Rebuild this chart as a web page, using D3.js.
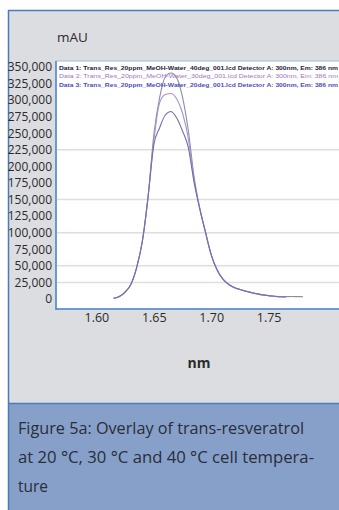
<!DOCTYPE html>
<html>
<head>
<meta charset="utf-8">
<script src="https://cdn.jsdelivr.net/npm/d3@7/dist/d3.min.js"></script>
<style>
  html, body { margin: 0; padding: 0; background: #fff; }
  svg { display: block; }
</style>
</head>
<body>
<script>
// Retention axis samples (shown in "nm" on the axis) and detector response in mAU
const xValues = [1.615, 1.620, 1.625, 1.630, 1.635, 1.640, 1.645, 1.650, 1.655, 1.660,
  1.665, 1.670, 1.675, 1.680, 1.685, 1.690, 1.695, 1.700, 1.705, 1.710,
  1.715, 1.720, 1.725, 1.730, 1.735, 1.740, 1.745, 1.750, 1.755, 1.760,
  1.765, 1.770, 1.775, 1.780];

const data1 = [1200, 3800, 10500, 21900, 46800, 86700, 153900, 247400, 303200, 334900,
  341000, 333400, 304700, 255000, 185600, 137300, 101100, 67000, 44500, 30500,
  22500, 17500, 14300, 11900, 9700, 7800, 6200, 5100, 4200, 3500,
  3600, 3700, 3600, 3500];
const data2 = [1200, 3800, 10500, 21900, 46800, 86700, 153900, 238400, 295700, 308500,
  310000, 301700, 280600, 242900, 179000, 137300, 101100, 67000, 44500, 30500,
  22500, 17500, 14300, 11900, 9700, 7800, 6200, 5100, 4200, 3300,
  3000];
const data3 = [1200, 3800, 10500, 21900, 46800, 86700, 153900, 232300, 258000, 277600,
  282900, 273000, 253400, 229000, 177000, 136000, 100500, 66500, 44200, 30300,
  22300, 17300, 14200, 11800, 9600, 7700, 6100, 5000, 4100, 3300,
  3000];

const seriesNames = [
  "Data 1: Trans_Res_20ppm_MeOH-Water_40deg_001.lcd Detector A: 300nm, Em: 386 nm",
  "Data 2: Trans_Res_20ppm_MeOH-Water_30deg_001.lcd Detector A: 300nm, Em: 386 nm",
  "Data 3: Trans_Res_20ppm_MeOH-Water_20deg_001.lcd Detector A: 300nm, Em: 386 nm"
];
const seriesColors = ["#8f8aa6", "#a993c9", "#6f6fb3"];
const legendColors = ["#22223a", "#a274c6", "#4d4dbb"];

const yTicks = [0, 25000, 50000, 75000, 100000, 125000, 150000, 175000, 200000,
  225000, 250000, 275000, 300000, 325000, 350000];
const xTicks = [1.60, 1.65, 1.70, 1.75];
const gridValues = [25000, 50000, 100000, 150000, 225000];

const captionLines = [
  "Figure 5a: Overlay of trans-resveratrol",
  "at 20 °C, 30 °C and 40 °C cell tempera-",
  "ture"
];

const W = 339, H = 510;
const svg = d3.select("body").append("svg").attr("width", W).attr("height", H);

// Frame panels
svg.append("rect").attr("x", 8).attr("y", 10).attr("width", W - 8).attr("height", 393)
  .attr("fill", "#dcdde0");
svg.append("rect").attr("x", 8).attr("y", 403).attr("width", W - 8).attr("height", H - 403)
  .attr("fill", "#87a0c9");
const frame = svg.append("g").attr("stroke", "#4a7bbb").attr("stroke-width", 1.5);
frame.append("line").attr("x1", 8).attr("x2", W).attr("y1", 10.5).attr("y2", 10.5);
frame.append("line").attr("x1", 8.5).attr("x2", 8.5).attr("y1", 10).attr("y2", H);
frame.append("line").attr("x1", 8).attr("x2", W).attr("y1", 403.5).attr("y2", 403.5);

// Plot area
const plot = { left: 56, top: 61, right: W + 2, bottom: 309 };
svg.append("rect").attr("x", plot.left).attr("y", plot.top)
  .attr("width", plot.right - plot.left).attr("height", plot.bottom - plot.top)
  .attr("fill", "#ffffff").attr("stroke", "#9dbde3").attr("stroke-width", 1);
svg.append("line").attr("x1", plot.left).attr("x2", plot.left)
  .attr("y1", plot.top).attr("y2", plot.bottom + 1)
  .attr("stroke", "#4f86c6").attr("stroke-width", 1.5);
svg.append("line").attr("x1", plot.left).attr("x2", W)
  .attr("y1", plot.bottom).attr("y2", plot.bottom)
  .attr("stroke", "#4f86c6").attr("stroke-width", 1.5);

const x = d3.scaleLinear().domain([1.60, 1.75]).range([96.4, 268.6]);
const y = d3.scaleLinear().domain([0, 350000]).range([299, 67]);

// Horizontal grid
svg.append("g").selectAll("line").data(gridValues).join("line")
  .attr("x1", plot.left + 1).attr("x2", W)
  .attr("y1", d => y(d)).attr("y2", d => y(d))
  .attr("stroke", "#e3dcdc").attr("stroke-width", 1.5);

// Y axis labels
const yAxis = d3.axisLeft(y).tickValues(yTicks).tickSize(0).tickPadding(0)
  .tickFormat(d3.format(","));
const gy = svg.append("g").attr("transform", "translate(52,0)").call(yAxis);
gy.select(".domain").remove();
gy.selectAll("text").attr("font-family", "Open Sans, sans-serif")
  .attr("font-size", 12).attr("fill", "#2b2b2b");

// X axis labels
const xAxis = d3.axisBottom(x).tickValues(xTicks).tickSize(0).tickPadding(0)
  .tickFormat(d3.format(".2f"));
const gx = svg.append("g").attr("transform", "translate(0,313)").call(xAxis);
gx.select(".domain").remove();
gx.selectAll("text").attr("font-family", "Open Sans, sans-serif")
  .attr("font-size", 12.5).attr("fill", "#2b2b2b");

// Axis titles
svg.append("text").attr("x", 57).attr("y", 42).text("mAU")
  .attr("font-family", "Open Sans, sans-serif").attr("font-size", 13.5).attr("fill", "#2b2b2b");
svg.append("text").attr("x", 199).attr("y", 368).attr("text-anchor", "middle").text("nm")
  .attr("font-family", "Open Sans, sans-serif").attr("font-weight", "bold")
  .attr("font-size", 14).attr("fill", "#2b2b2b");

// Traces
svg.append("clipPath").attr("id", "plotclip").append("rect")
  .attr("x", plot.left).attr("y", plot.top)
  .attr("width", W - plot.left).attr("height", plot.bottom - plot.top);
const line = d3.line().x(d => x(d[0])).y(d => y(d[1])).curve(d3.curveMonotoneX);
const traces = [data1, data2, data3];
const gTr = svg.append("g").attr("clip-path", "url(#plotclip)");
traces.forEach((vals, i) => {
  const pts = vals.map((v, j) => [xValues[j], v]);
  gTr.append("path").datum(pts).attr("d", line)
    .attr("fill", "none").attr("stroke", seriesColors[i]).attr("stroke-width", 1.1);
});

// Legend text
const gLeg = svg.append("g").attr("clip-path", "url(#plotclip)");
gLeg.selectAll("text").data(seriesNames).join("text")
  .attr("x", 59).attr("y", (d, i) => 69.5 + i * 8.8)
  .attr("textLength", 279).attr("lengthAdjust", "spacingAndGlyphs")
  .attr("font-family", "Liberation Sans, Arial, sans-serif").attr("font-size", 6.2)
  .attr("font-weight", (d, i) => i === 1 ? "normal" : "bold")
  .attr("fill", (d, i) => legendColors[i])
  .text(d => d);

// Caption
const capWidths = [286, 296, 30];
svg.append("g").selectAll("text").data(captionLines).join("text")
  .attr("x", 18).attr("y", (d, i) => 434 + i * 29)
  .attr("textLength", (d, i) => capWidths[i]).attr("lengthAdjust", "spacingAndGlyphs")
  .attr("font-family", "Open Sans, sans-serif").attr("font-size", 17)
  .attr("fill", "#2a2d3a")
  .text(d => d);
</script>
</body>
</html>
